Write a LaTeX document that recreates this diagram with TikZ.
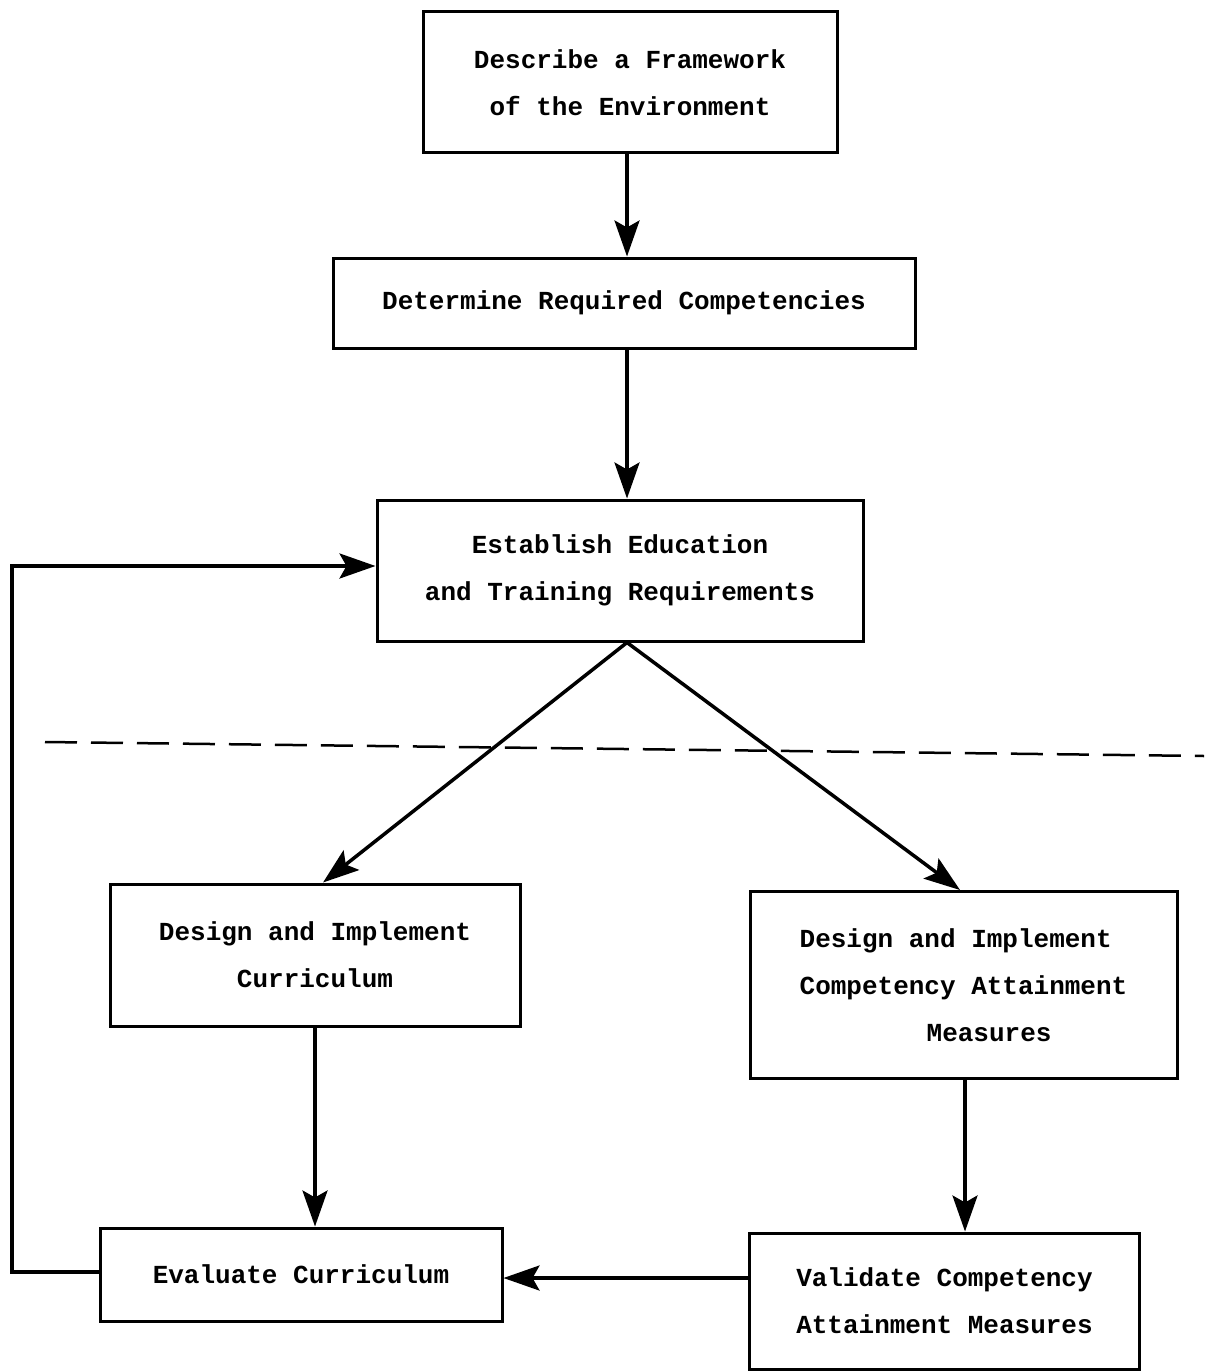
\documentclass[tikz,border=0pt]{standalone}
\usepackage{fontspec}
\newfontfamily\twfont{Liberation Mono}
\usetikzlibrary{arrows.meta}
\begin{document}
\begin{tikzpicture}[x=1pt,y=-1pt,
  box/.style={draw, line width=3pt, inner sep=0pt, align=center,
    font=\twfont\bfseries\fontsize{26}{47}\selectfont},
  arr/.style={line width=3.5pt, -{Stealth[length=36pt,width=25pt,inset=7pt]}},
  plain/.style={line width=3.5pt}]
\useasboundingbox (0,0) rectangle (1204,1372);
\fill[white] (0,0) rectangle (1204,1372);
\node[box, minimum width=414pt, minimum height=141pt] (n1) at (630,82.5)
  {Describe a Framework\\of the Environment};
\node[box, minimum width=582pt, minimum height=90pt] (n2) at (624,303)
  {Determine Required Competencies};
\node[box, minimum width=486pt, minimum height=141pt] (n3) at (620,570.5)
  {Establish Education\\and Training Requirements};
\node[box, minimum width=410pt, minimum height=142pt] (n4) at (315,955)
  {Design and Implement\\Curriculum};
\node[box, minimum width=427pt, minimum height=187pt, align=left] (n5) at (963.5,985)
  {Design and Implement\\Competency Attainment\\\hspace*{127pt}Measures};
\node[box, minimum width=402pt, minimum height=93pt] (n6) at (301,1274.5)
  {Evaluate Curriculum};
\node[box, minimum width=390pt, minimum height=136pt] (n7) at (944.5,1301)
  {Validate Competency\\Attainment Measures};
\coordinate (x627) at (627,0);
\coordinate (x323) at (323,0);
\coordinate (x960) at (960,0);
\coordinate (x315) at (315,0);
\coordinate (x965) at (965,0);
\coordinate (y1278) at (0,1278);
\coordinate (y1272) at (0,1272);
\coordinate (y566) at (0,566);
\coordinate (L1) at (12,1272);
\coordinate (L2) at (12,566);
\coordinate (d1) at (45,742);
\coordinate (d2) at (1204,756);
\draw[arr] (n1.south -| x627) -- (n2.north -| x627);
\draw[arr] (n2.south -| x627) -- (n3.north -| x627);
\draw[arr] (n3.south -| x627) -- (n4.north -| x323);
\draw[arr] (n3.south -| x627) -- (n5.north -| x960);
\draw[arr] (n4.south -| x315) -- (n6.north -| x315);
\draw[arr] (n5.south -| x965) -- (n7.north -| x965);
\draw[arr] (n7.west |- y1278) -- (n6.east |- y1278);
\draw[arr] (n6.west |- y1272) -- (L1) -- (L2) -- (n3.west |- y566);
\draw[line width=2.5pt, dash pattern=on 32pt off 14pt] (d1) -- (d2);
\end{tikzpicture}
\end{document}
